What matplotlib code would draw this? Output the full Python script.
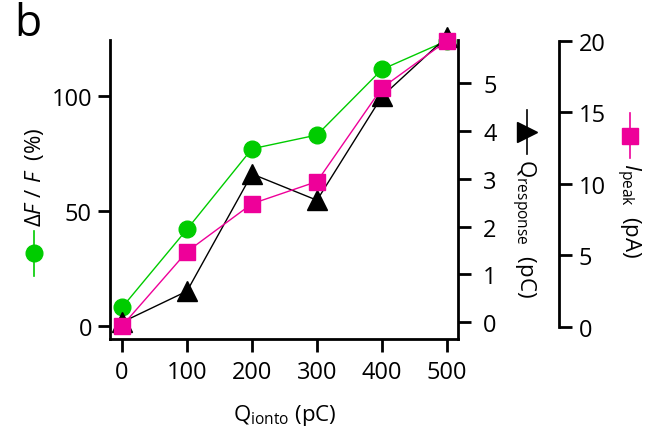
import matplotlib
matplotlib.use("Agg")
import matplotlib.pyplot as plt
from matplotlib.lines import Line2D

plt.rcParams['font.family'] = ['Open Sans', 'DejaVu Sans']
plt.rcParams['mathtext.fontset'] = 'custom'
plt.rcParams['mathtext.rm'] = 'Open Sans'
plt.rcParams['mathtext.it'] = 'Open Sans:italic'

# données
q_ionto = [0, 100, 200, 300, 400, 500]
dff = [8, 42, 77, 83, 111.5, 124]          # ΔF/F (%)
q_response = [0.0, 0.65, 3.1, 2.55, 4.72, 5.97]  # pC
i_peak = [0.05, 5.25, 8.6, 10.15, 16.7, 20.0]    # pA

green = '#00cc00'
pink = '#ee0099'
W, H = 652, 439


def px(x, y):
    # pixels -> fraction de figure
    return x / W, 1 - y / H


fig = plt.figure(figsize=(W / 100, H / 100), dpi=100)
ax = fig.add_axes([110 / W, 1 - 340 / H, (458 - 110) / W, (340 - 41) / H])
ax2 = ax.twinx()
ax3 = ax.twinx()

ax.plot(q_ionto, dff, color=green, lw=1, marker='o', ms=12, mec=green, clip_on=False)
ax2.plot(q_ionto, q_response, color='black', lw=1, marker='^', ms=14, clip_on=False)
ax3.plot(q_ionto, i_peak, color=pink, lw=1, marker='s', ms=12, mec=pink, clip_on=False)

ax.set_xlim(-18.5, 517)
ax.set_ylim(-5.7, 124.3)
ax2.set_ylim(-0.35, 5.9)
ax3.set_ylim(-0.86, 20.05)

ax.set_xticks(q_ionto)
ax.set_yticks([0, 50, 100])
ax2.set_yticks(range(6))
ax3.set_yticks([0, 5, 10, 15, 20])

for a in (ax, ax2, ax3):
    a.spines['top'].set_visible(False)
    for s in a.spines.values():
        s.set_linewidth(2)
    a.tick_params(width=2, length=9, labelsize=17)
ax.spines['right'].set_visible(False)
for a in (ax2, ax3):
    a.spines['left'].set_visible(False)
    a.spines['bottom'].set_visible(False)
ax3.spines['right'].set_position(('axes', (559 - 110) / (458 - 110)))
ax3.spines['right'].set_bounds(0, 20)

ax.tick_params(axis='x', pad=6)
ax.tick_params(axis='y', pad=4)
ax2.tick_params(axis='y', pad=9)
ax3.tick_params(axis='y', pad=5)

# étiquettes des axes avec symboles
fig.text(*px(35, 177), r'$\Delta F\ /\ F$  (%)', rotation=90, fontsize=16,
         ha='center', va='center')
fig.add_artist(Line2D(*zip(px(34, 232), px(34, 277)), color=green, lw=1.2,
                      transform=fig.transFigure))
fig.add_artist(Line2D([px(34, 254)[0]], [px(34, 254)[1]], color=green, marker='o',
                      ms=12, transform=fig.transFigure))

fig.text(*px(523, 228), r'Q$_{\mathrm{response}}$  (pC)', rotation=270, fontsize=16,
         ha='center', va='center')
fig.add_artist(Line2D(*zip(px(527, 111), px(527, 155)), color='black', lw=1.2,
                      transform=fig.transFigure))
fig.add_artist(Line2D([px(527, 133)[0]], [px(527, 133)[1]], color='black', marker='>',
                      ms=14, transform=fig.transFigure))

fig.text(*px(628, 211), r'$I_{\mathrm{peak}}$  (pA)', rotation=270, fontsize=16,
         ha='center', va='center')
fig.add_artist(Line2D(*zip(px(630, 114), px(630, 159)), color=pink, lw=1.2,
                      transform=fig.transFigure))
fig.add_artist(Line2D([px(630, 137)[0]], [px(630, 137)[1]], color=pink, marker='s',
                      ms=12, transform=fig.transFigure))

fig.text(*px(285, 416), r'Q$_{\mathrm{ionto}}$ (pC)', fontsize=16, ha='center', va='center')
fig.text(*px(28, 25), 'b', fontsize=32, ha='center', va='center')

fig.savefig('out.png', dpi=100)
